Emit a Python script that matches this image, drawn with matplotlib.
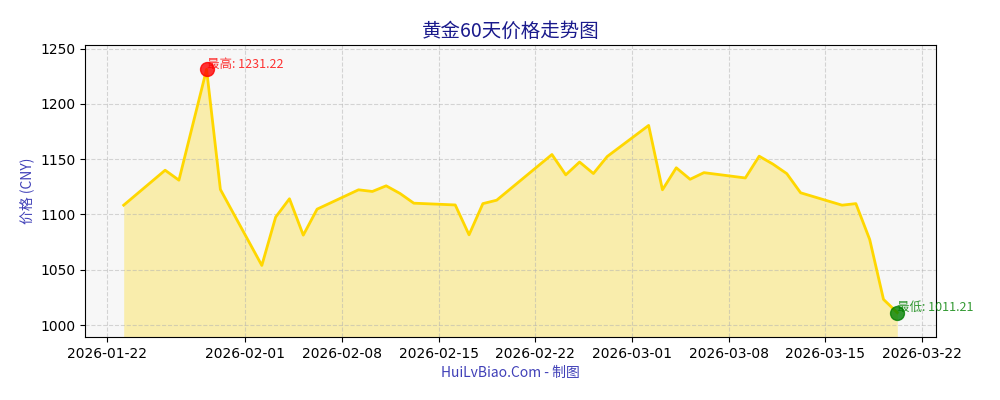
import matplotlib
matplotlib.use("Agg")
import matplotlib.pyplot as plt
import matplotlib.dates as mdates
import pandas as pd

# 黄金价格
dates = ["2026-01-23", "2026-01-26", "2026-01-27", "2026-01-29", "2026-01-30",
         "2026-02-02", "2026-02-03", "2026-02-04", "2026-02-05", "2026-02-06",
         "2026-02-09", "2026-02-10", "2026-02-11", "2026-02-12", "2026-02-13",
         "2026-02-16", "2026-02-17", "2026-02-18", "2026-02-19",
         "2026-02-23", "2026-02-24", "2026-02-25", "2026-02-26", "2026-02-27",
         "2026-03-02", "2026-03-03", "2026-03-04", "2026-03-05", "2026-03-06",
         "2026-03-09", "2026-03-10", "2026-03-11", "2026-03-12", "2026-03-13",
         "2026-03-16", "2026-03-17", "2026-03-18", "2026-03-19", "2026-03-20"]
prices = [1108.4, 1140.0, 1131.0, 1231.22, 1122.6,
          1053.9, 1097.6, 1114.2, 1081.3, 1104.8,
          1122.3, 1120.8, 1125.9, 1119.0, 1110.2,
          1108.6, 1081.6, 1109.8, 1112.9,
          1154.2, 1135.8, 1147.4, 1137.0, 1152.4,
          1180.5, 1122.3, 1142.2, 1131.8, 1137.8,
          1133.0, 1152.7, 1145.5, 1136.9, 1119.6,
          1108.4, 1109.8, 1077.4, 1023.2, 1011.21]

cjk = ["Noto Sans CJK SC", "DejaVu Sans"]

x = pd.to_datetime(dates) + pd.Timedelta(hours=5)
pmax, pmin = max(prices), min(prices)
imax, imin = prices.index(pmax), prices.index(pmin)
rng = pmax - pmin
ylo, yhi = pmin - 0.1 * rng, pmax + 0.1 * rng

fig = plt.figure(figsize=(10, 4), dpi=100)
ax = fig.add_subplot(111)
fig.subplots_adjust(left=0.085, right=0.936, bottom=0.1575, top=0.8875)
ax.set_facecolor("#f7f7f7")

ax.plot(x, prices, color="#FFD700", linewidth=2)
ax.fill_between(x, prices, ylo, color="#FFD700", alpha=0.3, linewidth=0)
ax.set_ylim(ylo, yhi)

ax.scatter([x[imax]], [pmax], s=100, color="red", alpha=0.8, zorder=5)
ax.scatter([x[imin]], [pmin], s=100, color="green", alpha=0.8, zorder=5)
ax.annotate(f"最高: {pmax:.2f}", xy=(x[imax], pmax), xytext=(0, -1),
            textcoords="offset points", fontsize=9, color="red", alpha=0.8,
            va="bottom", family=cjk)
ax.annotate(f"最低: {pmin:.2f}", xy=(x[imin], pmin), xytext=(0, -1),
            textcoords="offset points", fontsize=9, color="green", alpha=0.8,
            va="bottom", family=cjk)

ax.grid(True, linestyle="--", alpha=0.5)
ax.xaxis.set_major_formatter(mdates.DateFormatter("%Y-%m-%d"))

ax.set_title("黄金60天价格走势图", fontsize=14, color="#1a1a8c", family=cjk)
ax.set_ylabel("价格 (CNY)", fontsize=10, color="#4040b8", family=cjk)
ax.set_xlabel("HuiLvBiao.Com - 制图", fontsize=10, color="#4040b8", family=cjk)

fig.savefig("out.png")
